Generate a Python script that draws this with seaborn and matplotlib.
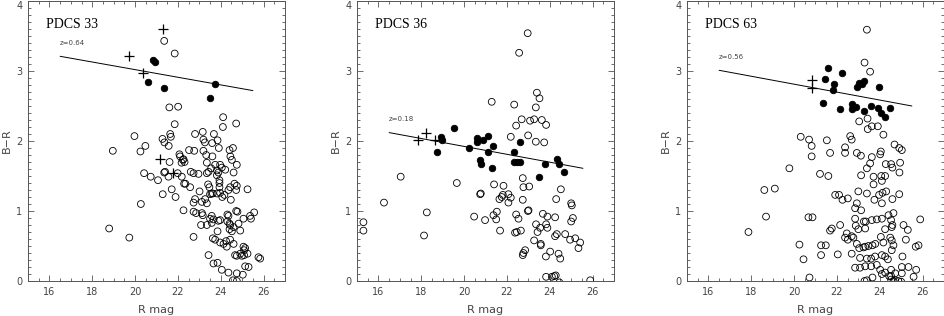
import numpy as np
import pandas as pd
import matplotlib
matplotlib.use("Agg")
import matplotlib.pyplot as plt
import seaborn as sns
from matplotlib.ticker import MultipleLocator

# ---- data (R mag, B-R) ----
panel_names = ["PDCS 33", "PDCS 36", "PDCS 63"]
redshifts = ["z=0.64", "z=0.18", "z=0.56"]

# red-sequence fit lines: (R start, R end), (B-R start, B-R end)
fit_r = [(16.5, 25.5), (16.5, 25.55), (16.5, 25.5)]
fit_br = [(3.21, 2.72), (2.12, 1.61), (3.01, 2.50)]

p33_plus = [(19.73, 3.21), (20.36, 2.97), (21.32, 3.60), (21.17, 1.75), (21.79, 1.55)]
p33_filled = [(20.83, 3.16), (20.91, 3.13), (20.62, 2.85), (21.37, 2.76), (23.75, 2.82), (23.49, 2.62)]
p33_open = [
    (21.36, 3.43), (21.85, 3.25), (21.60, 2.48), (22.01, 2.49), (24.11, 2.34), (21.85, 2.24),
    (24.10, 2.20), (24.72, 2.25), (22.80, 2.10), (23.16, 2.13), (23.68, 2.10), (21.64, 2.10),
    (21.67, 2.06), (21.28, 2.03), (21.37, 1.98), (21.57, 1.93), (23.19, 2.02), (23.26, 1.98),
    (23.60, 1.97), (23.85, 2.01), (23.91, 1.90), (23.19, 1.86), (22.52, 1.87), (22.76, 1.86),
    (20.48, 1.93), (20.25, 1.85), (24.41, 1.87), (24.57, 1.90), (22.07, 1.81), (22.10, 1.78),
    (23.32, 1.80), (23.61, 1.78), (24.45, 1.78), (22.26, 1.74), (19.97, 2.07), (18.96, 1.86),
    (20.42, 1.54), (20.73, 1.49), (21.07, 1.44), (20.27, 1.10), (18.79, 0.75), (19.73, 0.62),
    (24.52, 1.73), (24.75, 1.66), (21.61, 1.70), (22.23, 1.73), (22.17, 1.69), (22.31, 1.70),
    (23.35, 1.69), (23.74, 1.66), (23.55, 1.61), (23.82, 1.58), (21.36, 1.55), (21.40, 1.56),
    (21.56, 1.49), (21.99, 1.54), (22.18, 1.49), (22.29, 1.39), (22.35, 1.39), (22.57, 1.34),
    (22.73, 1.54), (22.60, 1.56), (22.96, 1.53), (23.35, 1.54), (23.43, 1.56), (23.82, 1.51),
    (23.89, 1.55), (24.60, 1.55), (24.64, 1.39), (24.75, 1.36), (24.72, 1.30), (25.25, 1.31),
    (24.44, 1.34), (24.36, 1.30), (23.41, 1.38), (23.47, 1.34), (23.57, 1.25), (23.50, 1.24),
    (23.63, 1.25), (23.94, 1.34), (23.82, 1.25), (23.97, 1.26), (24.07, 1.20), (24.17, 1.23),
    (21.29, 1.24), (21.71, 1.31), (21.89, 1.20), (22.80, 1.17), (22.73, 1.12), (23.27, 1.17),
    (23.35, 1.11), (23.12, 1.13), (23.01, 1.28), (24.47, 1.16), (24.72, 1.00), (24.78, 0.99),
    (24.31, 0.95), (24.36, 0.93), (22.26, 1.01), (22.73, 0.99), (22.85, 0.97), (23.12, 0.97),
    (23.16, 0.94), (23.58, 0.93), (23.50, 0.89), (23.66, 0.88), (23.89, 0.86), (23.97, 0.87),
    (24.31, 0.85), (24.41, 0.82), (25.06, 0.89), (25.37, 0.93), (25.56, 0.98), (25.41, 0.89),
    (23.08, 0.80), (23.35, 0.80), (23.58, 0.83), (23.85, 0.71), (24.44, 0.80), (24.83, 0.82),
    (24.91, 0.72), (24.41, 0.74), (24.52, 0.71), (24.60, 0.77), (22.73, 0.63), (23.63, 0.61),
    (23.74, 0.59), (23.97, 0.55), (24.13, 0.53), (24.25, 0.57), (24.44, 0.59), (24.28, 0.49),
    (24.60, 0.53), (25.06, 0.49), (25.14, 0.47), (24.67, 0.37), (24.75, 0.36), (24.91, 0.39),
    (24.99, 0.36), (25.09, 0.37), (25.25, 0.39), (25.09, 0.44), (25.76, 0.34), (25.84, 0.32),
    (23.43, 0.37), (23.66, 0.25), (23.85, 0.26), (24.05, 0.16), (24.36, 0.12), (24.75, 0.11),
    (25.14, 0.21), (25.30, 0.20), (25.03, 0.09), (24.57, 0.01), (24.75, 0.00), (24.21, 1.59),
    (23.97, 1.66), (24.05, 1.62), (23.94, 1.44), (23.94, 1.40),
]

p36_plus = [(17.87, 2.02), (18.22, 2.12), (18.64, 2.02)]
p36_filled = [
    (18.72, 1.85), (18.92, 2.06), (18.97, 2.01), (19.52, 2.18), (20.25, 1.90), (20.62, 2.05),
    (20.62, 1.98), (20.87, 2.02), (21.12, 2.07), (21.34, 1.93), (21.14, 1.85), (20.75, 1.73),
    (20.78, 1.67), (21.29, 1.62), (22.31, 1.84), (22.59, 1.99), (22.35, 1.70), (22.46, 1.70),
    (22.59, 1.70), (23.50, 1.48), (23.78, 1.67), (24.33, 1.74), (24.41, 1.67), (24.67, 1.56),
]
p36_open = [
    (22.97, 3.54), (22.57, 3.26), (21.29, 2.56), (22.34, 2.52), (23.40, 2.69), (23.52, 2.61),
    (23.35, 2.48), (22.69, 2.31), (23.27, 2.31), (23.08, 2.29), (23.63, 2.30), (23.83, 2.23),
    (22.43, 2.22), (22.18, 2.06), (22.99, 2.08), (23.35, 1.99), (23.74, 1.98),
    (15.30, 0.84), (15.30, 0.72), (16.26, 1.12), (17.04, 1.49), (18.26, 0.98), (18.13, 0.65),
    (19.66, 1.40), (20.47, 0.92), (20.75, 1.24), (22.74, 1.47), (21.84, 1.36), (21.40, 1.38),
    (22.77, 1.34), (23.04, 1.35), (20.78, 1.25), (21.81, 1.23), (21.76, 1.20), (22.07, 1.24),
    (22.18, 1.19), (21.65, 1.17), (22.07, 1.12), (22.74, 1.16), (24.30, 1.17), (24.52, 1.31),
    (25.00, 1.11), (25.03, 1.08), (23.01, 1.01), (22.98, 1.00), (21.53, 0.99), (21.37, 0.94),
    (21.50, 0.88), (20.98, 0.87), (22.43, 0.95), (22.54, 0.89), (23.68, 0.96), (23.89, 0.92),
    (24.25, 0.91), (25.08, 0.90), (25.00, 0.85), (23.36, 0.81), (23.55, 0.76), (23.89, 0.76),
    (23.83, 0.81), (21.68, 0.72), (22.38, 0.69), (22.46, 0.70), (22.65, 0.72), (23.43, 0.70),
    (24.33, 0.67), (24.25, 0.64), (24.72, 0.67), (24.95, 0.59), (25.19, 0.61), (25.42, 0.55),
    (25.34, 0.47), (23.27, 0.58), (23.58, 0.53), (23.58, 0.51), (22.85, 0.44), (22.77, 0.40),
    (22.74, 0.37), (24.02, 0.42), (23.82, 0.35), (24.41, 0.39), (24.49, 0.32), (23.83, 0.06),
    (24.10, 0.06), (24.21, 0.07), (24.28, 0.08), (24.45, -0.02), (25.89, 0.01),
]

p63_plus = [(20.82, 2.87), (20.82, 2.76)]
p63_filled = [
    (21.59, 3.04), (21.43, 2.89), (21.88, 2.81), (21.84, 2.73), (22.23, 2.97), (21.34, 2.55),
    (22.15, 2.46), (23.01, 2.83), (23.27, 2.86), (23.19, 2.81), (22.93, 2.77), (23.97, 2.77),
    (22.69, 2.53), (22.77, 2.48), (22.90, 2.49), (22.69, 2.46), (23.27, 2.43), (23.60, 2.50),
    (23.94, 2.47), (24.06, 2.40), (24.25, 2.35), (24.50, 2.47),
]
p63_open = [
    (23.40, 3.59), (23.29, 3.12), (23.55, 2.99), (23.43, 2.32), (23.04, 2.28), (23.44, 2.17),
    (23.63, 2.21), (23.91, 2.21), (24.17, 2.09), (20.31, 2.06), (20.70, 2.02), (20.82, 1.93),
    (21.53, 2.01), (22.62, 2.07), (22.69, 2.02), (22.38, 1.91), (22.38, 1.83), (21.68, 1.83),
    (20.82, 1.78), (22.93, 1.83), (23.12, 1.79), (23.63, 1.77), (24.05, 1.85), (24.02, 1.81),
    (24.69, 1.95), (24.91, 1.90), (25.03, 1.87), (19.78, 1.61), (18.61, 1.30), (19.10, 1.32),
    (18.69, 0.92), (17.87, 0.70), (20.25, 0.52), (21.21, 1.53), (21.60, 1.50), (23.13, 1.51),
    (23.40, 1.61), (23.55, 1.68), (23.71, 1.49), (23.71, 1.38), (24.07, 1.50), (24.25, 1.50),
    (24.10, 1.43), (24.28, 1.67), (24.53, 1.67), (24.59, 1.62), (24.95, 1.69), (24.92, 1.55),
    (23.00, 1.28), (21.92, 1.23), (22.10, 1.23), (22.26, 1.16), (22.51, 1.18), (22.93, 1.11),
    (23.13, 1.01), (22.85, 1.04), (23.75, 1.16), (23.97, 1.23), (24.13, 1.26), (24.30, 1.28),
    (24.10, 1.11), (24.59, 1.17), (24.64, 0.97), (24.91, 1.24), (24.41, 0.94), (24.53, 0.87),
    (20.67, 0.91), (20.86, 0.91), (22.85, 0.89), (23.26, 0.85), (23.35, 0.85), (23.63, 0.87),
    (23.86, 0.88), (24.10, 0.89), (22.15, 0.80), (21.76, 0.75), (21.68, 0.72), (22.88, 0.79),
    (23.00, 0.74), (23.32, 0.75), (24.25, 0.74), (24.56, 0.77), (24.59, 0.80), (25.11, 0.80),
    (25.31, 0.73), (25.89, 0.88), (22.46, 0.68), (22.38, 0.62), (22.51, 0.59), (22.69, 0.64),
    (22.77, 0.62), (22.93, 0.53), (23.04, 0.47), (23.24, 0.48), (23.32, 0.49), (23.47, 0.50),
    (23.66, 0.51), (23.79, 0.53), (24.05, 0.63), (24.17, 0.55), (24.49, 0.62), (24.56, 0.58),
    (24.64, 0.51), (24.56, 0.44), (25.22, 0.59), (25.68, 0.49), (25.81, 0.51), (20.44, 0.31),
    (21.26, 0.51), (21.48, 0.51), (21.26, 0.37), (22.04, 0.38), (22.69, 0.39), (23.08, 0.33),
    (23.40, 0.32), (23.60, 0.32), (23.78, 0.35), (24.10, 0.37), (24.25, 0.35), (24.38, 0.31),
    (25.06, 0.35), (22.85, 0.19), (23.08, 0.19), (23.32, 0.21), (23.60, 0.21), (23.86, 0.23),
    (24.02, 0.16), (24.25, 0.12), (24.10, 0.10), (24.53, 0.16), (24.72, 0.11), (24.53, 0.07),
    (25.03, 0.20), (25.03, 0.11), (25.34, 0.20), (25.58, 0.06), (25.70, 0.16), (23.29, 0.00),
    (23.40, 0.01), (23.66, 0.05), (24.44, 0.07), (24.53, 0.02), (24.64, 0.00), (24.72, 0.01),
    (24.87, 0.00), (25.00, -0.01), (20.72, 0.05), (23.40, 1.25),
]

open_sets = [p33_open, p36_open, p63_open]
filled_sets = [p33_filled, p36_filled, p63_filled]
plus_sets = [p33_plus, p36_plus, p63_plus]


def to_frame(points):
    return pd.DataFrame(points, columns=["R", "BR"])


sns.set_style("ticks")
plt.rcParams["font.family"] = ["DejaVu Sans"]
axis_grey = "#555555"
text_grey = "#444444"

fig = plt.figure(figsize=(9.45, 3.16), dpi=100)
W, H = 945.0, 316.0
lefts = [28, 357, 687]

for i in range(3):
    ax = fig.add_axes([lefts[i] / W, 35 / H, 257 / W, 280 / H])

    sns.scatterplot(data=to_frame(open_sets[i]), x="R", y="BR", ax=ax, marker="o", s=24,
                    facecolor="none", edgecolor="black", linewidth=0.6, legend=False)
    sns.scatterplot(data=to_frame(filled_sets[i]), x="R", y="BR", ax=ax, marker="o", s=22,
                    color="black", edgecolor="black", linewidth=0.6, legend=False)
    sns.scatterplot(data=to_frame(plus_sets[i]), x="R", y="BR", ax=ax, marker="+", s=60,
                    color="black", linewidth=0.9, legend=False)
    sns.lineplot(x=list(fit_r[i]), y=list(fit_br[i]), ax=ax, color="black", lw=0.7)

    ax.set_xlim(15, 27)
    ax.set_ylim(0, 4)
    ax.set_xticks([16, 18, 20, 22, 24, 26])
    ax.set_yticks([0, 1, 2, 3, 4])
    ax.xaxis.set_minor_locator(MultipleLocator(0.5))
    ax.yaxis.set_minor_locator(MultipleLocator(0.1))
    ax.tick_params(which="both", direction="in", top=True, right=True, color=axis_grey,
                   width=0.6, labelsize=7, labelcolor=text_grey)
    ax.tick_params(which="major", length=4.5, pad=4)
    ax.tick_params(which="minor", length=2.2)
    for sp in ax.spines.values():
        sp.set_color(axis_grey)
        sp.set_linewidth(0.7)
    # keep the top "4" label inside the figure, as in the reference
    ax.yaxis.get_major_ticks()[-1].label1.set_va("top")

    ax.set_xlabel("R mag", fontsize=8, color=text_grey, labelpad=6)
    ax.set_ylabel("B\u2212R", fontsize=8, color=text_grey, labelpad=3)

    ax.text(15.83, 3.66, panel_names[i], fontsize=10, family="Liberation Serif",
            ha="left", va="center", color="black")
    label_y = fit_br[i][0] + 0.19
    ax.text(16.5, label_y, redshifts[i], fontsize=5, ha="left", va="center", color=text_grey)

fig.savefig("out.png", dpi=100)
